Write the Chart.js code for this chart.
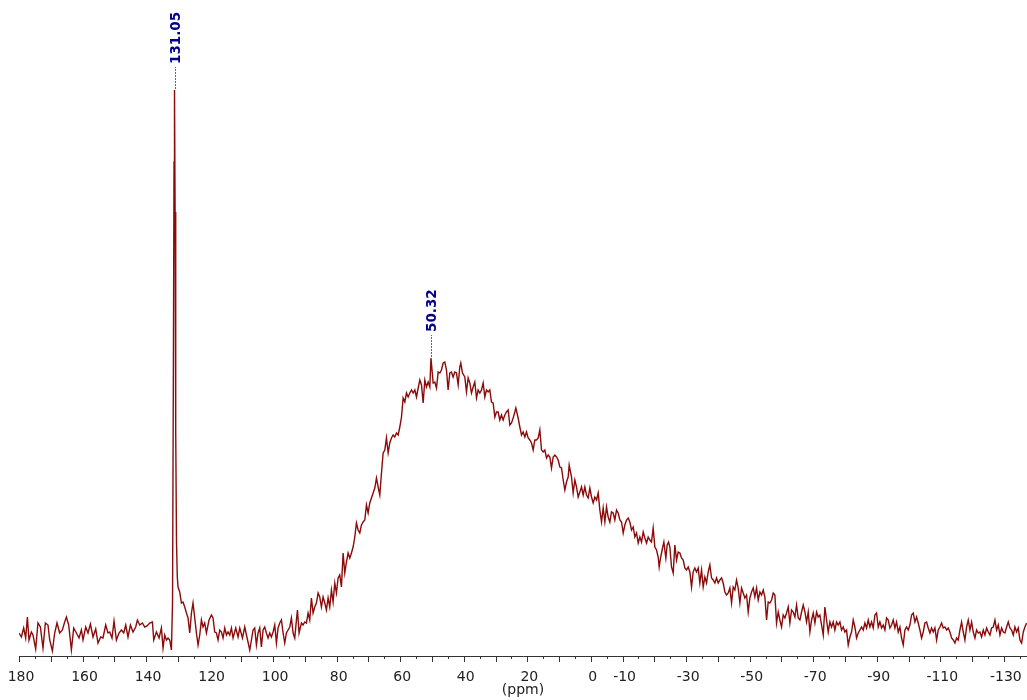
<!DOCTYPE html>
<html><head><meta charset="utf-8">
<script src="https://cdn.jsdelivr.net/npm/chart.js@4"></script>
<style>html,body{margin:0;padding:0;background:#fff;overflow:hidden}</style>
</head><body>
<canvas id="c" width="1027" height="700"></canvas>
<script>
// [ppm, intensity] pairs
const baselineLeft = [[180.0,-1],[179.25,-5],[178.53,4],[177.9,-6],[177.36,15],[176.86,-8],[176.11,0],[175.6,-3],[174.75,-17],[174.03,9],[173.27,5],[172.45,-16],[171.7,9],[170.88,7],[170.34,-8],[169.49,-19],[168.77,-1],[168.04,9],[167.19,-1],[166.34,2],[165.62,10],[165.08,15],[164.36,7],[163.51,-18],[162.78,4],[161.93,-1],[161.11,-6],[160.36,2],[159.85,-8],[159.0,5],[158.28,-1],[157.52,8],[156.7,-5],[155.85,3],[155.13,-11],[154.28,-5],[153.56,-6],[152.71,7],[151.98,-1],[151.45,0],[150.72,-6],[150.09,11],[149.34,-8],[148.52,-1],[147.76,2],[147.04,-1],[146.41,7],[145.69,-5],[144.93,7],[144.11,0],[143.26,5],[142.73,12],[142.0,7],[141.15,9],[140.43,5],[139.7,6]];
const sharpPeak = [[138.85,9],[138.0,10],[137.59,-8],[136.74,0],[135.92,-6],[135.17,4],[134.66,-16],[134.13,-3],[133.59,-8],[133.09,-6],[132.56,-8],[132.02,-18],[131.67,30],[131.42,250],[131.2,470],[131.05,542],[130.86,420],[130.67,200],[130.42,90],[130.17,55],[129.94,45],[129.41,40],[128.87,29],[128.37,30],[127.83,25],[127.3,19],[126.79,14],[126.26,-1],[125.72,19],[125.22,29],[124.68,14],[124.15,-1],[123.64,-13],[123.11,-3],[122.58,12],[122.07,5],[121.54,9],[121.0,-1],[120.18,12],[119.43,17],[118.92,14],[118.39,0],[117.85,-1],[117.35,-8],[116.81,2],[116.28,0],[115.77,-6],[115.24,4],[114.7,-3],[114.2,0],[113.66,-3],[113.13,4],[112.62,-6],[111.77,4],[111.05,-5],[110.51,4],[109.66,-6],[108.94,5],[108.4,-3],[107.36,-18]];
const broadHump = [[106.32,2],[105.8,4],[105.27,-13],[104.75,-1],[104.22,4],[103.7,-15],[103.17,2],[102.65,5],[102.12,-1],[101.6,-6],[101.07,-1],[100.55,-5],[100.02,0],[99.5,7],[98.97,-11],[98.45,4],[97.92,9],[97.4,12],[96.87,-1],[96.35,-11],[95.82,-1],[95.3,2],[94.77,5],[94.25,14],[93.72,-1],[93.2,-6],[92.67,12],[92.35,22],[91.84,-1],[91.1,9],[90.58,7],[90.05,10],[89.53,9],[89.0,19],[88.48,12],[87.95,34],[87.43,19],[86.9,25],[86.38,29],[85.85,39],[85.33,35],[84.8,25],[84.28,35],[83.75,29],[83.23,22],[82.7,34],[82.18,25],[81.65,42],[81.13,30],[80.6,49],[80.08,39],[79.55,54],[79.03,57],[78.5,45],[77.98,79],[77.45,59],[76.93,70],[76.4,79],[75.88,74],[75.35,79],[74.83,85],[74.3,95],[73.78,109],[73.25,102],[72.73,99],[72.2,107],[71.68,110],[71.15,112],[70.63,127],[70.1,119],[69.58,129],[69.05,134],[68.53,139],[68.0,144],[67.48,154],[66.95,145],[66.43,137],[65.9,159],[65.38,179],[64.85,182],[64.33,194],[63.8,179],[63.28,189],[62.75,194],[62.23,197],[61.7,195],[61.18,199],[60.65,197],[60.13,205],[59.6,215],[59.08,234],[58.55,230],[58.03,239],[57.5,235],[56.98,239],[56.45,242],[55.93,239],[55.4,242],[54.88,235],[54.35,244],[53.83,252],[53.3,247],[52.78,229],[52.25,252],[51.73,245],[51.2,250],[50.68,245],[50.32,274],[49.63,249],[49.11,250],[48.58,244],[48.06,260],[47.53,259],[47.02,262],[46.49,269],[45.97,270],[45.44,262],[44.92,242],[44.39,259],[43.87,260],[43.34,255],[42.82,260],[42.29,259],[41.77,247],[41.24,265],[40.93,269],[40.4,259],[39.67,255],[39.14,240],[38.62,254],[38.09,249],[37.57,239],[37.04,245],[36.52,250],[35.99,234],[35.47,242],[34.94,239],[34.42,242],[33.89,249],[33.37,235],[32.85,242],[32.32,240],[31.8,242],[31.27,230],[30.75,229],[30.22,215],[29.7,220],[29.17,220],[28.65,212],[28.12,217],[27.6,212],[27.07,217],[26.55,220],[26.02,222],[25.5,207],[24.97,209],[24.45,214],[23.92,220],[23.61,224],[22.87,214],[22.35,205],[21.82,197],[21.3,200],[20.77,195],[20.25,200],[19.72,194],[19.2,192],[18.67,189],[18.15,182],[17.62,192],[17.1,192],[16.57,194],[16.05,202],[15.52,182],[15.0,180],[14.47,182],[13.95,174],[13.43,177],[12.9,175],[12.38,164],[11.85,175],[11.33,177],[10.8,175],[10.28,172],[9.75,165],[9.23,164],[8.7,152],[8.18,142],[7.65,150],[7.13,155],[6.81,167],[6.08,155],[5.56,139],[5.03,152],[4.51,145],[3.98,135],[3.46,140],[2.93,145],[2.41,137],[1.88,145],[1.36,137],[0.83,134],[0.31,144],[-0.22,135],[-0.74,129],[-1.27,135],[-1.79,132],[-2.32,139],[-2.84,122],[-3.37,110],[-3.89,124],[-4.42,110],[-4.94,125],[-5.46,115],[-5.99,110],[-6.51,120],[-7.04,119],[-7.56,112],[-8.09,122],[-8.61,119],[-9.14,112],[-9.66,110],[-10.19,99],[-10.71,107],[-11.24,112],[-11.76,114],[-12.29,110],[-12.81,102],[-13.34,105],[-13.86,95],[-14.39,99],[-14.91,89],[-15.44,95],[-15.96,90],[-16.49,100],[-17.01,94],[-17.54,89],[-18.06,95],[-18.58,92],[-19.1,90],[-19.63,104],[-20.15,85],[-20.68,82],[-21.2,75],[-21.52,65],[-21.94,74],[-22.57,84],[-22.99,90],[-23.62,74],[-24.04,87],[-24.46,90],[-24.88,85],[-25.4,65],[-25.93,59],[-26.45,87],[-26.98,72],[-27.5,80],[-28.03,79],[-28.55,74],[-29.08,72],[-29.6,64],[-30.13,62],[-30.65,65],[-31.18,60],[-31.7,45],[-32.22,60],[-32.75,64],[-33.27,60],[-33.8,64],[-34.32,49],[-34.85,62],[-35.37,45],[-35.9,55],[-36.42,49],[-36.95,60],[-37.47,67],[-38.0,54],[-38.52,52],[-39.05,49],[-39.57,54],[-40.1,49],[-40.62,52],[-41.15,54],[-41.67,49],[-42.2,40],[-42.72,37],[-43.25,39],[-43.77,44],[-44.3,29],[-44.82,45],[-45.34,42],[-45.87,52],[-46.39,44],[-46.92,29],[-47.44,44],[-47.97,39],[-48.49,34],[-49.02,37],[-49.54,20],[-50.07,34],[-50.59,40],[-51.12,44],[-51.64,35],[-52.17,44],[-52.69,32],[-53.22,40],[-53.74,37],[-54.27,42],[-54.79,35],[-55.32,12],[-55.84,30],[-56.37,29],[-56.89,32],[-57.42,39],[-57.94,37],[-58.46,9],[-58.99,20],[-59.51,12],[-60.04,5],[-60.56,17],[-61.09,14],[-61.61,19],[-62.14,25],[-62.66,9],[-63.19,22],[-63.71,20],[-64.24,15],[-64.76,27],[-65.29,14],[-65.81,12],[-66.34,20],[-66.86,27],[-67.39,20],[-67.91,10],[-68.44,20],[-68.96,0],[-69.49,12],[-70.01,19],[-70.54,9],[-71.06,20],[-71.58,15],[-72.11,17],[-72.63,7],[-73.16,-3],[-73.68,25],[-74.21,12],[-74.73,0],[-75.26,10]];
const baselineRight = [[-75.77,5],[-76.3,10],[-76.82,2],[-77.35,10],[-77.87,7],[-78.4,10],[-78.92,2],[-79.45,5],[-79.97,0],[-80.5,2],[-81.02,-13],[-81.55,-5],[-82.07,0],[-82.6,12],[-83.12,5],[-83.65,-6],[-84.17,-1],[-84.7,2],[-85.22,5],[-85.75,2],[-86.27,9],[-86.8,4],[-87.32,12],[-87.85,5],[-88.37,10],[-88.9,4],[-89.42,17],[-89.94,19],[-90.47,5],[-90.99,10],[-91.52,4],[-92.04,7],[-92.57,2],[-93.09,14],[-93.62,12],[-94.14,4],[-94.67,7],[-95.19,12],[-95.72,4],[-96.24,10],[-96.77,0],[-97.29,5],[-97.82,-6],[-98.34,-13],[-98.87,2],[-99.39,5],[-99.92,2],[-100.44,7],[-100.97,17],[-101.49,19],[-102.02,10],[-102.54,15],[-103.06,9],[-103.59,2],[-104.11,-6],[-104.64,0],[-105.16,9],[-105.69,10],[-106.21,4],[-106.74,-1],[-107.26,4],[-107.79,0],[-108.31,4],[-108.84,-8],[-109.36,2],[-109.89,5],[-110.41,9],[-110.94,4],[-111.46,5],[-111.99,2],[-112.51,4],[-113.04,0],[-113.56,-6],[-114.09,-8],[-114.61,-11],[-115.14,-6],[-115.66,-8],[-116.19,2],[-116.71,10],[-117.23,0],[-117.76,-8],[-118.28,5],[-118.81,12],[-119.33,2],[-119.86,10],[-120.38,0],[-120.91,-6],[-121.43,2],[-121.96,-1],[-122.48,0],[-123.01,-5],[-123.53,2],[-124.06,-3],[-124.58,4],[-125.11,0],[-125.63,-3],[-126.16,4],[-126.68,5],[-127.21,12],[-127.73,2],[-128.26,7],[-128.78,-3],[-129.31,4],[-129.83,0],[-130.36,-1],[-130.88,5],[-131.4,10],[-131.93,4],[-132.45,2],[-132.98,-3],[-133.5,5],[-134.03,0],[-134.55,4],[-135.08,-8],[-135.6,-11],[-136.13,0],[-136.65,5],[-137.18,9]];

const axisTickLabels = [180,160,140,120,100,80,60,40,20,0,-10,-30,-50,-70,-90,-110,-130];
const peakPositions = [131.05, 50.32];
const peakLabels = ['131.05', '50.32'];
const axisTitle = '(ppm)';
const xRange = [-137.3, 180];
const yRange = [-24, 632];

const spectrum = baselineLeft.concat(sharpPeak, broadHump, baselineRight);

const tickMarks = {
  id: 'tickMarks',
  afterDraw(chart) {
    const s = chart.scales.x, c = chart.ctx, y0 = chart.chartArea.bottom;
    c.save();
    c.strokeStyle = '#333';
    c.lineWidth = 1;
    c.beginPath();
    for (let v = 180; v >= -135; v -= 5) {
      const px = Math.round(s.getPixelForValue(v)) + 0.5;
      const len = (v % 10 === 0) ? 6 : 3;
      c.moveTo(px, y0);
      c.lineTo(px, y0 + len);
    }
    c.stroke();
    c.restore();
  }
};

const peakAnnot = {
  id: 'peakAnnot',
  afterDatasetsDraw(chart) {
    const xs = chart.scales.x, ys = chart.scales.y, c = chart.ctx;
    peakPositions.forEach((p, i) => {
      const pt = spectrum.find(q => q[0] === p);
      const x = Math.round(xs.getPixelForValue(p)) + 0.5;
      const y = ys.getPixelForValue(pt[1]);
      c.save();
      c.strokeStyle = 'rgba(40,40,170,0.75)';
      c.lineWidth = 1;
      c.setLineDash([2, 1]);
      c.beginPath();
      c.moveTo(x, y - 1);
      c.lineTo(x, y - 23);
      c.stroke();
      c.setLineDash([]);
      c.translate(x + 1, y - 26);
      c.rotate(-Math.PI / 2);
      c.fillStyle = '#00008b';
      c.font = 'bold 13.5px "DejaVu Sans"';
      c.textAlign = 'left';
      c.textBaseline = 'middle';
      c.fillText(peakLabels[i], 0, 0);
      c.restore();
    });
  }
};

new Chart(document.getElementById('c').getContext('2d'), {
  type: 'line',
  data: {
    datasets: [{
      data: spectrum.map(p => ({ x: p[0], y: p[1] })),
      borderColor: '#8b0a0a',
      borderWidth: 1.4,
      pointRadius: 0,
      tension: 0,
      fill: false
    }]
  },
  options: {
    responsive: false,
    animation: false,
    layout: { padding: { left: 19, right: 0, top: 0, bottom: 0 } },
    plugins: { legend: { display: false }, tooltip: { enabled: false } },
    scales: {
      x: {
        type: 'linear',
        reverse: true,
        min: xRange[0],
        max: xRange[1],
        afterBuildTicks: s => { s.ticks = axisTickLabels.map(v => ({ value: v })); },
        afterFit: s => { s.paddingLeft = 0; s.paddingRight = 0; s.height = 44; },
        grid: { display: false, drawTicks: false },
        border: { display: true, color: '#333', width: 1 },
        ticks: {
          autoSkip: false, maxRotation: 0, minRotation: 0, padding: 14, color: '#222',
          labelOffset: 2,
          font: { family: 'DejaVu Sans', size: 14, lineHeight: 1 },
          callback: v => String(v)
        },
        title: {
          display: true, text: axisTitle, color: '#222',
          font: { family: 'DejaVu Sans', size: 14, lineHeight: 1 },
          padding: { top: 0, bottom: 3 }
        }
      },
      y: { display: false, min: yRange[0], max: yRange[1] }
    }
  },
  plugins: [tickMarks, peakAnnot]
});
</script>
</body></html>
